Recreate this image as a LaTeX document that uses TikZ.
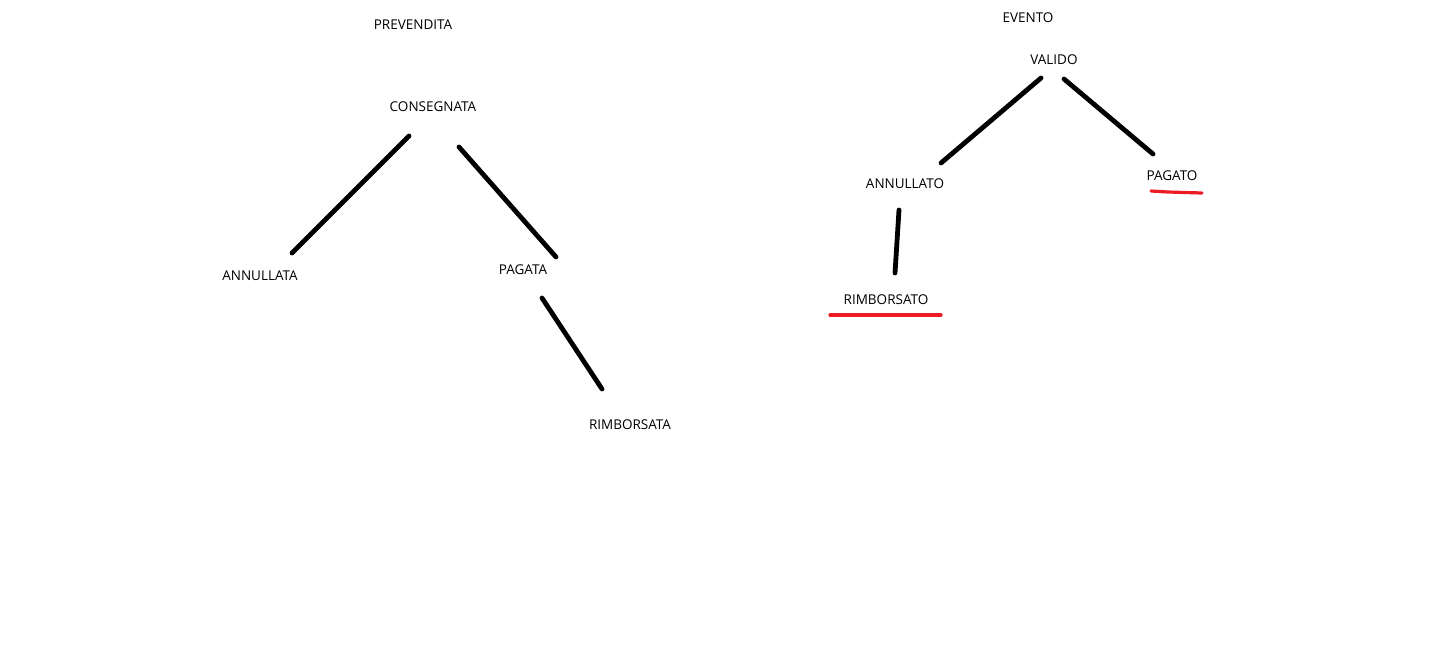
\documentclass[tikz,border=0pt]{standalone}
\usepackage{fontspec}
\setmainfont{Open Sans}
\definecolor{paintred}{RGB}{237,28,36}
\begin{document}
\begin{tikzpicture}[x=1pt,y=-1pt,
  lbl/.style={inner sep=0pt,font=\fontsize{13.5}{16}\selectfont,text=black},
  edgeline/.style={line width=4.8pt,line cap=round,black},
  redline/.style={line width=3.2pt,line cap=round,paintred}]
\useasboundingbox[fill=white] (0,0) rectangle (1434,648);
% left tree
\node[lbl] (prev) at (413,25) {PREVENDITA};
\node[lbl] (cons) at (433,107) {CONSEGNATA};
\node[lbl] (annA) at (260,276) {ANNULLATA};
\node[lbl] (pagA) at (523,270) {PAGATA};
\node[lbl] (rimA) at (630,425) {RIMBORSATA};
% right tree
\node[lbl] (evt) at (1028,18) {EVENTO};
\node[lbl] (val) at (1054,60) {VALIDO};
\node[lbl] (annO) at (905,184) {ANNULLATO};
\node[lbl] (pagO) at (1172,176) {PAGATO};
\node[lbl] (rimO) at (886,300) {RIMBORSATO};
% connector ends
\coordinate (c1a) at (409,136); \coordinate (c1b) at (292,253);
\coordinate (c2a) at (459,147); \coordinate (c2b) at (556,257);
\coordinate (c3a) at (542,298); \coordinate (c3b) at (602,389);
\coordinate (c4a) at (1041,78); \coordinate (c4b) at (941,163);
\coordinate (c5a) at (1064,79); \coordinate (c5b) at (1153,154);
\coordinate (c6a) at (899,210); \coordinate (c6b) at (895,273);
\draw[edgeline] (c1a) -- (c1b);
\draw[edgeline] (c2a) -- (c2b);
\draw[edgeline] (c3a) -- (c3b);
\draw[edgeline] (c4a) -- (c4b);
\draw[edgeline] (c5a) -- (c5b);
\draw[edgeline] (c6a) -- (c6b);
% red underlines
\coordinate (u1a) at (1151,191); \coordinate (u1m) at (1168,192); \coordinate (u1b) at (1202,193);
\coordinate (u2a) at (830,315); \coordinate (u2b) at (941,315);
\draw[redline] (u1a) -- (u1m) -- (u1b);
\draw[redline] (u2a) -- (u2b);
\end{tikzpicture}
\end{document}
